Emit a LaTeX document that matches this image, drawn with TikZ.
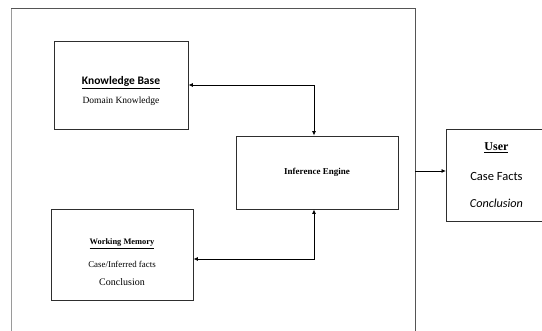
\documentclass[tikz,border=0pt]{standalone}
\usepackage{fontspec}
\setmainfont{Liberation Serif}
\newfontfamily\calib{Carlito}
\usetikzlibrary{arrows.meta,positioning,calc}
\definecolor{framegray}{HTML}{555555}
\definecolor{lightedge}{HTML}{9A9A9A}
\definecolor{boxline}{HTML}{2E2E2E}
\tikzset{
  block/.style={rectangle,draw=boxline,line width=0.9pt,fill=white,align=center,inner sep=0pt},
  link/.style={{Latex[length=4.5pt,width=4pt]}-{Latex[length=4.5pt,width=4pt]},line width=0.8pt,black},
  oneway/.style={-{Latex[length=4.5pt,width=4pt]},line width=0.8pt,black}
}
\newcommand{\fs}[2]{\fontsize{#1}{#2}\selectfont}

\begin{document}
\begin{tikzpicture}[x=1pt,y=-1pt]
    \useasboundingbox (0,0) rectangle (542,331);
    \draw[lightedge,line width=0.8pt] (11,336) -- (11,8);
    \draw[framegray,line width=0.8pt] (11,8) -- (415,8) -- (415,336);
    \coordinate (frameedge) at (415,171);

    \node[block,minimum width=134pt,minimum height=88pt] (kb) at (121,85)
      {\fs{1}{1}\mbox{}\\[8pt]\fs{11.5}{13}\calib\bfseries\underline{Knowledge Base}\\[7pt]\fs{9.5}{11}Domain Knowledge};
    \node[block,minimum width=162pt,minimum height=73pt] (ie) at (317,172.5)
      {\fs{9}{11}\bfseries Inference Engine};
    \node[block,minimum width=142pt,minimum height=91pt] (wm) at (122,254.5)
      {\fs{1}{1}\mbox{}\\[10pt]\fs{8.4}{10}\bfseries\underline{Working Memory}\\[11pt]\fs{8.9}{11}Case/Inferred facts\\[6pt]\fs{10}{12}Conclusion};
    \node[block,minimum width=100pt,minimum height=92pt,anchor=west] (user) at (446,175)
      {\fs{12}{14}\bfseries\underline{User}\\[18pt]\fs{12.5}{14}\calib Case Facts\\[15pt]\fs{12.2}{14}\calib\itshape Conclusion};

    \draw[link] (kb.east) -| ([xshift=-3pt]ie.north);
    \draw[link] ([yshift=-4.5pt]wm.east) -| ([xshift=-3pt]ie.south);
    \draw[oneway] (frameedge) -- (frameedge -| user.west);
\end{tikzpicture}
\end{document}
